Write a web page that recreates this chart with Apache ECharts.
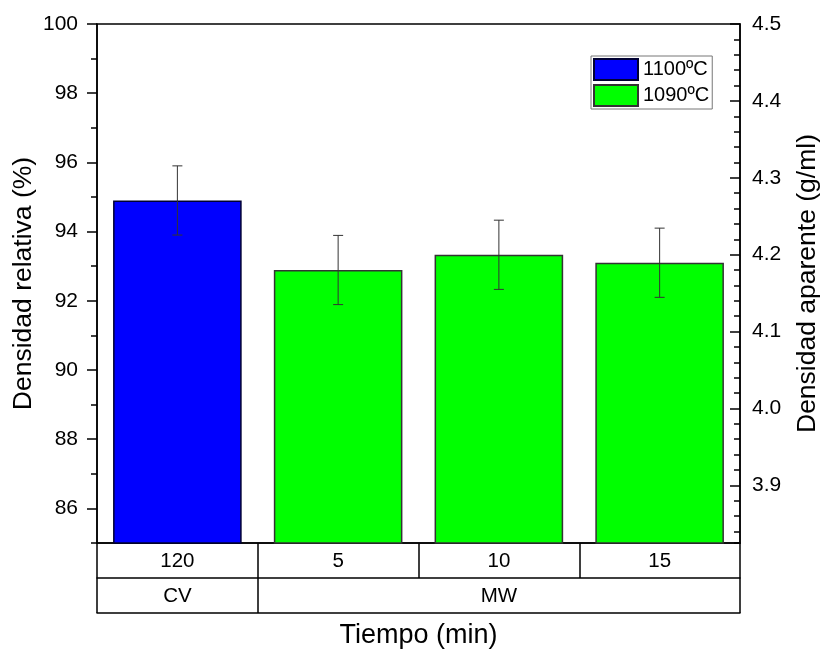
<!DOCTYPE html>
<html>
<head>
<meta charset="utf-8">
<script src="https://cdn.jsdelivr.net/npm/echarts@6/dist/echarts.min.js"></script>
<style>
  html, body { margin: 0; padding: 0; background: #fff; }
  #chart { width: 830px; height: 654px; }
</style>
</head>
<body>
<div id="chart"></div>
<script>
// Sintering time per sample (min) and the heating route it belongs to
const tiempos = ['120', '5', '10', '15'];
const rutas = ['CV', 'MW'];
const rutaSpan = [1, 3];

// Relative density (%) and its standard deviation
const dens1100 = [94.9, null, null, null];
const dens1090 = [null, 92.89, 93.33, 93.1];
const desviacion = [1.0, 1.0, 1.0, 1.0];

// Theoretical density (g/ml) that links the two vertical scales
const densTeorica = 4.5;
const relMin = 85;
const relMax = 100;

const FONT = "'Liberation Sans', Arial, sans-serif";
const BLACK = '#000';

// Second row of the category table: one label centred on each route's span
const rutaData = [];
const rutaLimites = {};
rutas.forEach(function (r, i) {
  const start = rutaData.length;
  rutaLimites[start] = true;
  for (let k = 0; k < rutaSpan[i]; k++) {
    rutaData.push(k === Math.floor(rutaSpan[i] / 2) ? r : '');
  }
});

const errorData = tiempos.map(function (t, i) {
  const v = dens1100[i] != null ? dens1100[i] : dens1090[i];
  return [i, v, desviacion[i]];
});

const chart = echarts.init(document.getElementById('chart'), null, { renderer: 'canvas' });

const axisLineStyle = { color: BLACK, width: 1.5 };

chart.setOption({
  animation: false,
  backgroundColor: '#fff',
  textStyle: { fontFamily: FONT },
  grid: {
    left: 97, right: 90, top: 24, bottom: 111,
    containLabel: false,
    outerBoundsMode: 'none',
    show: true, borderColor: BLACK, borderWidth: 1.5, backgroundColor: 'transparent'
  },
  legend: {
    orient: 'vertical',
    left: 591, top: 56,
    itemWidth: 44, itemHeight: 21, itemGap: 3, itemTextGap: 3,
    padding: [2, 3, 2, 2],
    borderColor: '#777', borderWidth: 1,
    backgroundColor: '#fff',
    icon: 'rect',
    textStyle: { fontSize: 20, color: BLACK, fontFamily: FONT },
    data: ['1100ºC', '1090ºC']
  },
  xAxis: [
    {
      type: 'category',
      data: tiempos,
      position: 'bottom',
      axisLine: { show: true, lineStyle: axisLineStyle },
      axisTick: { show: true, inside: false, length: 35, lineStyle: axisLineStyle },
      axisLabel: { fontSize: 20.5, color: BLACK, margin: 8, fontFamily: FONT },
      splitLine: { show: false }
    },
    {
      type: 'category',
      data: rutaData,
      position: 'bottom',
      offset: 35,
      axisLine: { show: true, lineStyle: axisLineStyle },
      axisTick: {
        show: true, inside: false, length: 35, lineStyle: axisLineStyle,
        interval: function (index) { return !!rutaLimites[index]; }
      },
      axisLabel: { fontSize: 20.5, color: BLACK, margin: 8, interval: 0, fontFamily: FONT },
      splitLine: { show: false }
    },
    {
      type: 'category',
      data: tiempos,
      position: 'bottom',
      offset: 70,
      axisLine: { show: true, lineStyle: axisLineStyle },
      axisTick: { show: false },
      axisLabel: { show: false },
      name: 'Tiempo (min)',
      nameLocation: 'middle',
      nameGap: 9,
      nameTextStyle: { fontSize: 27, color: BLACK, fontFamily: FONT, verticalAlign: 'top' }
    }
  ],
  yAxis: [
    {
      type: 'value',
      position: 'left',
      min: relMin, max: relMax,
      minInterval: 2, maxInterval: 2,
      axisLine: { show: true, lineStyle: axisLineStyle },
      axisTick: { show: true, inside: false, length: 10, lineStyle: axisLineStyle },
      axisLabel: { fontSize: 21, color: BLACK, margin: 19, showMinLabel: false, fontFamily: FONT },
      splitLine: { show: false },
      name: 'Densidad relativa (%)',
      nameLocation: 'middle',
      nameGap: 60,
      nameMoveOverlap: false,
      nameTextStyle: { fontSize: 26.5, color: BLACK, fontFamily: FONT }
    },
    {
      type: 'value',
      position: 'left',
      min: relMin, max: relMax,
      interval: 1,
      axisLine: { show: false },
      axisTick: { show: true, inside: false, length: 6, lineStyle: axisLineStyle },
      axisLabel: { show: false },
      splitLine: { show: false }
    },
    {
      type: 'value',
      position: 'right',
      min: densTeorica * relMin / 100, max: densTeorica * relMax / 100,
      minInterval: 0.1, maxInterval: 0.1,
      axisLine: { show: true, lineStyle: axisLineStyle },
      axisTick: { show: true, inside: true, length: 10, lineStyle: axisLineStyle },
      axisLabel: {
        fontSize: 21, color: BLACK, margin: 12, showMinLabel: false, fontFamily: FONT,
        formatter: function (v) { return v.toFixed(1); }
      },
      splitLine: { show: false },
      name: 'Densidad aparente (g/ml)',
      nameLocation: 'middle',
      nameGap: 54,
      nameMoveOverlap: false,
      nameTextStyle: { fontSize: 26.5, color: BLACK, fontFamily: FONT }
    },
    {
      type: 'value',
      position: 'right',
      min: densTeorica * relMin / 100, max: densTeorica * relMax / 100,
      minInterval: 0.02, maxInterval: 0.02,
      axisLine: { show: false },
      axisTick: { show: true, inside: true, length: 6, lineStyle: axisLineStyle },
      axisLabel: { show: false },
      splitLine: { show: false }
    }
  ],
  series: [
    {
      name: '1100ºC',
      type: 'bar',
      xAxisIndex: 0, yAxisIndex: 0,
      data: dens1100,
      barGap: '-100%',
      barCategoryGap: '20%',
      itemStyle: { color: '#0000ff', borderColor: '#000033', borderWidth: 1.5 }
    },
    {
      name: '1090ºC',
      type: 'bar',
      xAxisIndex: 0, yAxisIndex: 0,
      data: dens1090,
      barGap: '-100%',
      barCategoryGap: '20%',
      itemStyle: { color: '#00ff00', borderColor: '#333', borderWidth: 1.5 }
    },
    {
      name: 'desviacion',
      type: 'custom',
      xAxisIndex: 0, yAxisIndex: 0,
      data: errorData,
      z: 10,
      renderItem: function (params, api) {
        const x = api.value(0);
        const y = api.value(1);
        const e = api.value(2);
        const top = api.coord([x, y + e]);
        const bot = api.coord([x, y - e]);
        const cap = 5;
        const style = { stroke: '#333', lineWidth: 1 };
        return {
          type: 'group',
          children: [
            { type: 'line', shape: { x1: top[0], y1: top[1], x2: bot[0], y2: bot[1] }, style: style },
            { type: 'line', shape: { x1: top[0] - cap, y1: top[1], x2: top[0] + cap, y2: top[1] }, style: style },
            { type: 'line', shape: { x1: bot[0] - cap, y1: bot[1], x2: bot[0] + cap, y2: bot[1] }, style: style }
          ]
        };
      }
    }
  ]
});
</script>
</body>
</html>
